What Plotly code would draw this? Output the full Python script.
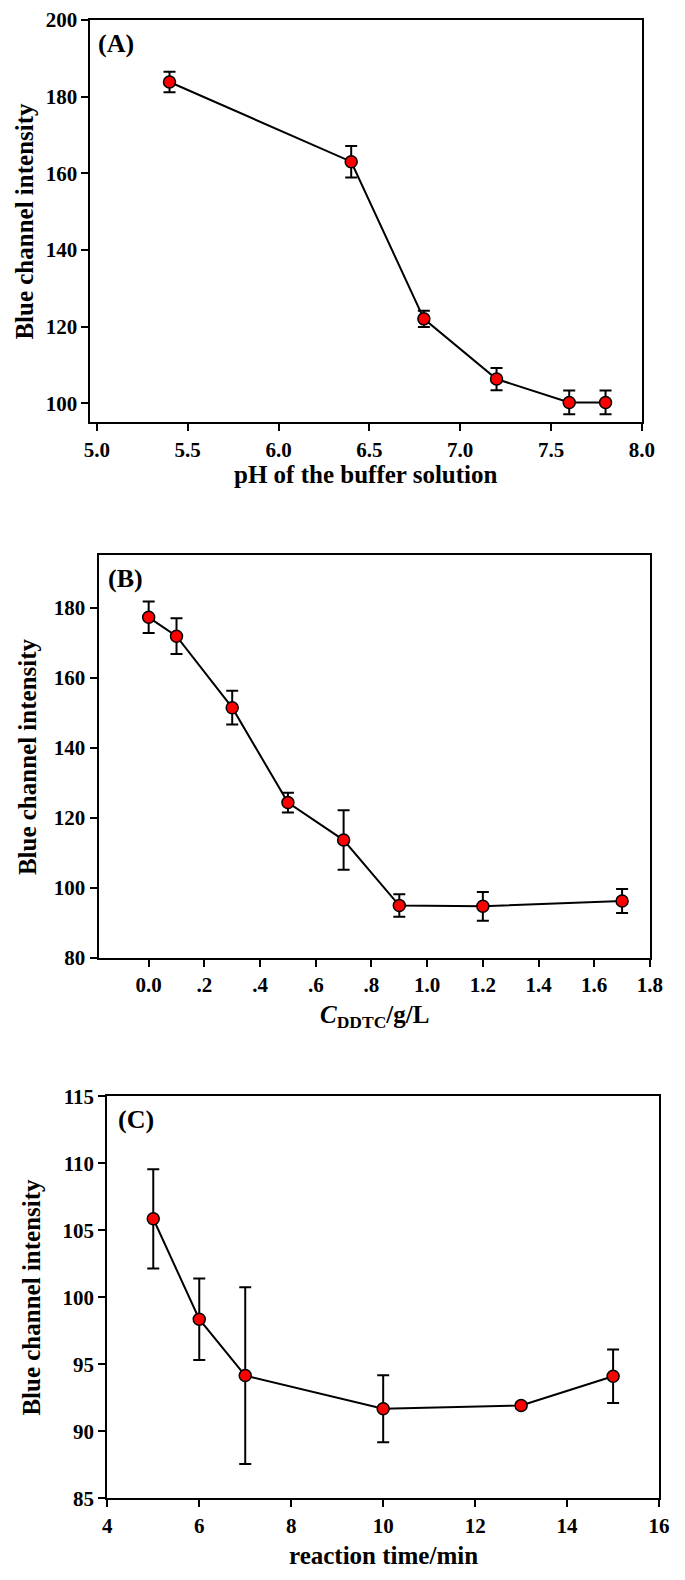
import plotly.graph_objects as go

# ---------------- data ----------------
ph = [5.4, 6.4, 6.8, 7.2, 7.6, 7.8]
ph_val = [183.8, 163.0, 122.0, 106.3, 100.2, 100.2]
ph_err = [2.7, 4.1, 2.1, 2.9, 3.1, 3.1]

ddtc = [0.0, 0.1, 0.3, 0.5, 0.7, 0.9, 1.2, 1.7]
ddtc_val = [177.3, 171.9, 151.5, 124.4, 113.7, 95.0, 94.8, 96.3]
ddtc_err = [4.5, 5.1, 4.8, 2.8, 8.5, 3.2, 4.1, 3.4]

rtime = [5, 6, 7, 10, 13, 15]
rtime_val = [105.86, 98.37, 94.16, 91.68, 91.93, 94.11]
rtime_err = [3.7, 3.04, 6.6, 2.5, 0.2, 2.0]

a_xticks = [5.0, 5.5, 6.0, 6.5, 7.0, 7.5, 8.0]
a_xlabels = ["5.0", "5.5", "6.0", "6.5", "7.0", "7.5", "8.0"]
a_yticks = [100, 120, 140, 160, 180, 200]
b_xticks = [0.0, 0.2, 0.4, 0.6, 0.8, 1.0, 1.2, 1.4, 1.6, 1.8]
b_xlabels = ["0.0", ".2", ".4", ".6", ".8", "1.0", "1.2", "1.4", "1.6", "1.8"]
b_yticks = [80, 100, 120, 140, 160, 180]
c_xticks = [4, 6, 8, 10, 12, 14, 16]
c_yticks = [85, 90, 95, 100, 105, 110, 115]

W, H = 685, 1580
FONT = "Liberation Serif"


def px(x):
    return x / W


def py(y):
    return 1 - y / H


fig = go.Figure()

panels = [
    (ph, ph_val, ph_err, "x", "y"),
    (ddtc, ddtc_val, ddtc_err, "x2", "y2"),
    (rtime, rtime_val, rtime_err, "x3", "y3"),
]
for xs, ys, es, xa, ya in panels:
    fig.add_trace(go.Scatter(
        x=xs, y=ys, xaxis=xa, yaxis=ya, mode="lines+markers",
        line=dict(color="black", width=2),
        marker=dict(size=12, color="#ff0000", line=dict(color="black", width=1.5)),
        error_y=dict(type="data", array=es, visible=True, color="black",
                     thickness=2, width=6),
        showlegend=False, hoverinfo="skip",
    ))

tickfont = dict(family=FONT, size=21, color="black", weight="bold")


def xaxis(dom, rng, tv, tt, anchor):
    return dict(domain=dom, range=rng, tickvals=tv, ticktext=tt, anchor=anchor,
                showgrid=False, zeroline=False, showline=True, linecolor="black",
                linewidth=2, mirror=True, ticks="outside", ticklen=7, tickwidth=2,
                tickcolor="black", tickfont=tickfont)


def yaxis(dom, rng, tv, anchor):
    return dict(domain=dom, range=rng, tickvals=tv, ticktext=[str(v) for v in tv],
                anchor=anchor, showgrid=False, zeroline=False, showline=True,
                linecolor="black", linewidth=2, mirror=True, ticks="outside",
                ticklen=7, tickwidth=2, tickcolor="black", tickfont=tickfont)


# pixel boxes of the plot areas (left, right, top, bottom)
A = (86, 654, 8, 416.7)
B = (94.3, 662.3, 551.7, 960.7)
C = (103.3, 671.7, 1101, 1509.3)

fig.update_layout(
    width=W, height=H, margin=dict(l=0, r=0, t=0, b=0),
    paper_bgcolor="white", plot_bgcolor="white",
    xaxis=xaxis([px(A[0]), px(A[1])], [4.965, 8.0001], a_xticks, a_xlabels, "y"),
    yaxis=yaxis([py(A[3]), py(A[2])], [95, 200.001], a_yticks, "x"),
    xaxis2=xaxis([px(B[0]), px(B[1])], [-0.18, 1.8001], b_xticks, b_xlabels, "y2"),
    yaxis2=yaxis([py(B[3]), py(B[2])], [79.999, 195], b_yticks, "x2"),
    xaxis3=xaxis([px(C[0]), px(C[1])], [4, 16.0001], c_xticks, [str(v) for v in c_xticks], "y3"),
    yaxis3=yaxis([py(C[3]), py(C[2])], [84.999, 115.001], c_yticks, "x3"),
)

titlefont = dict(family=FONT, size=25, color="black", weight="bold")
labelfont = dict(family=FONT, size=26, color="black", weight="bold")

ann = []
# y-axis titles
for xc, box in [(18, A), (21, B), (25, C)]:
    ann.append(dict(text="Blue channel intensity", x=px(xc), y=py((box[2] + box[3]) / 2),
                    xref="paper", yref="paper", textangle=-90, showarrow=False,
                    xanchor="center", yanchor="middle", font=titlefont))
# x-axis titles
for txt, box, yc in [("pH of the buffer solution", A, 470),
                     ("<i>C</i><sub>DDTC</sub>/g/L", B, 1020),
                     ("reaction time/min", C, 1567)]:
    ann.append(dict(text=txt, x=px((box[0] + box[1]) / 2), y=py(yc),
                    xref="paper", yref="paper", showarrow=False,
                    xanchor="center", yanchor="middle", font=titlefont))
# panel labels
for txt, xl, yc in [("(A)", 92, 32), ("(B)", 102, 575), ("(C)", 112, 1125)]:
    ann.append(dict(text=txt, x=px(xl), y=py(yc), xref="paper", yref="paper",
                    showarrow=False, xanchor="left", yanchor="middle", font=labelfont))

fig.update_layout(annotations=ann)
fig.write_html("out.html",
               config={"displayModeBar": False},
               post_script="document.body.style.margin='0px';"
                           "document.body.style.overflow='hidden';")
